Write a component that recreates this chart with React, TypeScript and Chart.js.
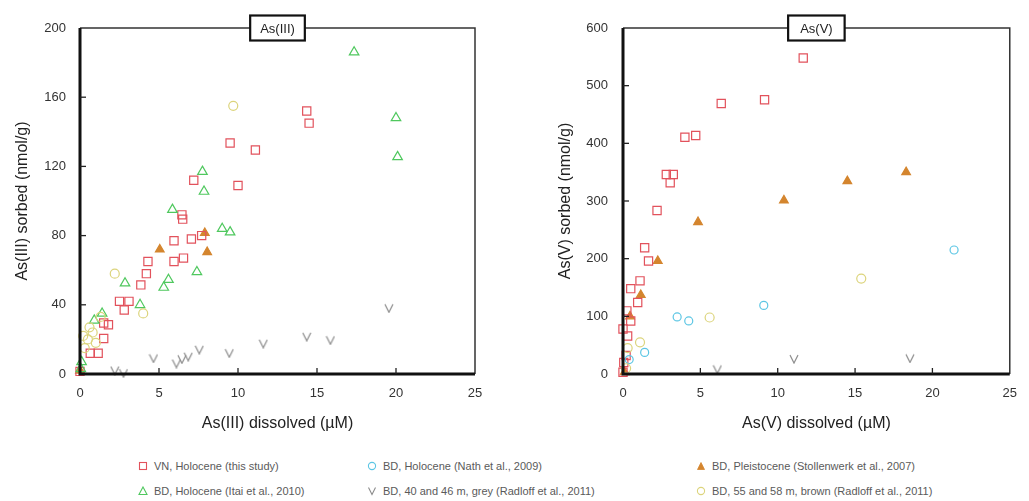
import React, { useEffect, useRef } from "react";
import { Chart, registerables } from "chart.js";
Chart.register(...registerables);

// ---------- tick labels ----------
const xTicks = [0, 5, 10, 15, 20, 25];
const yTicksIII = [0, 40, 80, 120, 160, 200];
const yTicksV = [0, 100, 200, 300, 400, 500, 600];

// ---------- series names ----------
const seriesNames = [
  "VN, Holocene (this study)",
  "BD, Holocene (Nath et al., 2009)",
  "BD, Pleistocene (Stollenwerk et al., 2007)",
  "BD, Holocene (Itai et al., 2010)",
  "BD, 40 and 46 m, grey (Radloff et al., 2011)",
  "BD, 55 and 58 m, brown (Radloff et al., 2011)",
];

// ---------- As(III) panel ----------
const vnIIIx = [14.35, 14.5, 9.5, 11.1, 10.0, 7.2, 6.45, 6.5, 5.95, 7.05, 7.7, 5.95, 6.55, 4.3, 4.2, 3.85, 2.5, 3.1, 2.8, 1.5, 1.8, 1.5, 0.65, 1.15, 0.0];
const vnIIIy = [152, 145, 133.5, 129.5, 109, 112, 92, 89.5, 77, 78, 80, 65, 67, 65, 58, 51.5, 42, 42, 37, 29.5, 28.5, 20.5, 12, 12, 1.5];
const nathIIIx: number[] = [];
const nathIIIy: number[] = [];
const pleiIIIx = [5.05, 7.9, 8.05, 0.0];
const pleiIIIy = [72, 81.5, 70.5, 2];
const itaiIIIx = [17.35, 20.0, 20.1, 7.75, 7.85, 5.85, 9.0, 9.5, 7.4, 5.3, 5.6, 2.85, 3.8, 1.4, 0.9, 0.1, 0.05];
const itaiIIIy = [186, 148, 125.5, 117, 105.5, 95, 84, 82, 59, 50, 54.5, 52.5, 40, 35, 31, 7, 3];
const greyIIIx = [2.2, 2.75, 4.65, 6.1, 6.45, 6.85, 7.55, 9.45, 11.6, 14.35, 15.85, 19.55];
const greyIIIy = [2, 0.5, 9, 6, 8.5, 10, 14, 12, 17.5, 21.5, 19.5, 38];
const brownIIIx = [9.7, 2.2, 4.0, 0.3, 0.5, 0.8, 0.2, 1.0, 0.6, 1.3];
const brownIIIy = [155, 58, 35, 15, 20, 24, 22, 18, 27, 33];

// ---------- As(V) panel ----------
const vnVx = [11.65, 9.15, 6.35, 4.0, 4.7, 2.8, 3.25, 3.05, 2.2, 1.4, 1.65, 1.1, 0.5, 0.95, 0.25, 0.5, 0.0, 0.3, 0.2, 0.05, 0.0];
const vnVy = [548, 475.5, 469, 410.5, 413.5, 346, 346, 331.5, 283.5, 219, 196, 161.5, 148, 124, 109.5, 92, 78, 66, 32, 20, 3];
const nathVx = [3.5, 4.25, 9.1, 1.4, 21.4, 0.4];
const nathVy = [99, 92, 119, 37.5, 215, 25];
const pleiVx = [4.85, 10.4, 14.5, 18.3, 2.25, 1.15, 0.45, 0.1];
const pleiVy = [263.5, 301, 334.5, 350, 196, 137, 100, 3];
const itaiVx: number[] = [];
const itaiVy: number[] = [];
const greyVx = [6.1, 11.05, 18.55];
const greyVy = [8, 26, 27];
const brownVx = [5.6, 15.4, 1.1, 0.3, 0.2];
const brownVy = [98, 165.5, 55, 45, 10];

const COLORS = {
  vn: "#e2525c",
  nath: "#5cc6e4",
  plei: "#d4852e",
  itai: "#4fc85e",
  grey: "#8c8c8c",
  brown: "#dcd47c",
};

const FONT = '"Liberation Sans", Arial, sans-serif';

function pts(xs: number[], ys: number[]) {
  return xs.map((x, i) => ({ x, y: ys[i] }));
}

function makeV(color: string, size: number) {
  const c = document.createElement("canvas");
  c.width = size;
  c.height = size;
  const g = c.getContext("2d")!;
  g.strokeStyle = color;
  g.lineWidth = 1.2;
  g.beginPath();
  g.moveTo(1, 1);
  g.lineTo(size / 2, size - 1);
  g.lineTo(size - 1, 1);
  g.stroke();
  return c;
}

const framePlugin = {
  id: "frame",
  afterDraw(chart: any, _args: any, opts: any) {
    const { ctx, chartArea } = chart;
    const { left, right, top, bottom } = chartArea;
    const xs = chart.scales.x;
    const ys = chart.scales.y;
    ctx.save();
    ctx.strokeStyle = "#333";
    ctx.lineWidth = 1.5;
    ctx.beginPath();
    ctx.moveTo(left, top);
    ctx.lineTo(right, top);
    ctx.lineTo(right, bottom);
    ctx.stroke();
    ctx.strokeStyle = "#111";
    ctx.lineWidth = 3;
    ctx.beginPath();
    ctx.moveTo(left, top);
    ctx.lineTo(left, bottom);
    ctx.lineTo(right, bottom);
    ctx.stroke();
    ctx.lineWidth = 1.3;
    ctx.strokeStyle = "#222";
    xs.ticks.forEach((t: any) => {
      if (t.value > xs.min && t.value < xs.max) {
        const px = xs.getPixelForValue(t.value);
        ctx.beginPath();
        ctx.moveTo(px, bottom);
        ctx.lineTo(px, bottom - 6);
        ctx.stroke();
      }
    });
    ys.ticks.forEach((t: any) => {
      if (t.value > ys.min && t.value < ys.max) {
        const py = ys.getPixelForValue(t.value);
        ctx.beginPath();
        ctx.moveTo(left, py);
        ctx.lineTo(left + 6, py);
        ctx.stroke();
      }
    });
    // title box
    ctx.font = `13px ${FONT}`;
    const tw = ctx.measureText(opts.text).width;
    const w = tw + opts.padX * 2;
    const h = 25;
    const cx = (left + right) / 2;
    ctx.fillStyle = "#fff";
    ctx.fillRect(cx - w / 2, top - h / 2, w, h);
    ctx.lineWidth = 2.2;
    ctx.strokeStyle = "#111";
    ctx.strokeRect(cx - w / 2, top - h / 2, w, h);
    ctx.fillStyle = "#222";
    ctx.textAlign = "center";
    ctx.textBaseline = "middle";
    ctx.fillText(opts.text, cx, top + 1);
    ctx.restore();
  },
};

function buildConfig(p: {
  series: { x: number[]; y: number[] }[];
  yTicks: number[];
  yMax: number;
  xTitle: string;
  yTitle: string;
  title: string;
  padX: number;
  yWidth: number;
  yTitlePad: number;
  yTickPad: number;
  padRight: number;
  vStyle: HTMLCanvasElement;
}) {
  const styles = [
    { pointStyle: "rect", radius: 5.8, color: COLORS.vn, fill: "rgba(0,0,0,0)" },
    { pointStyle: "circle", radius: 4, color: COLORS.nath, fill: "rgba(0,0,0,0)" },
    { pointStyle: "triangle", radius: 5, color: COLORS.plei, fill: COLORS.plei },
    { pointStyle: "triangle", radius: 5.5, color: COLORS.itai, fill: "rgba(0,0,0,0)" },
    { pointStyle: p.vStyle, radius: 5, color: COLORS.grey, fill: "rgba(0,0,0,0)" },
    { pointStyle: "circle", radius: 4.5, color: COLORS.brown, fill: "rgba(0,0,0,0)" },
  ];
  const order = [4, 5, 1, 3, 0, 2];
  const datasets = order.map((i) => ({
    label: seriesNames[i],
    data: pts(p.series[i].x, p.series[i].y),
    pointStyle: styles[i].pointStyle as any,
    pointRadius: styles[i].radius,
    pointBorderColor: styles[i].color,
    pointBackgroundColor: styles[i].fill,
    pointBorderWidth: 1.2,
    showLine: false,
    clip: false as any,
  }));
  return {
    type: "scatter" as const,
    data: { datasets },
    options: {
      animation: false as const,
      responsive: false,
      devicePixelRatio: 1,
      layout: { padding: { left: 0, top: 28, right: p.padRight, bottom: 0 } },
      plugins: {
        legend: { display: false },
        tooltip: { enabled: false },
        title: { display: false },
        frame: { text: p.title, padX: p.padX },
      },
      scales: {
        x: {
          type: "linear" as const,
          min: 0,
          max: 25,
          border: { display: false },
          grid: { display: false, drawTicks: false },
          afterBuildTicks: (s: any) => {
            s.ticks = xTicks.map((v) => ({ value: v }));
          },
          afterFit: (s: any) => {
            s.height = 66;
          },
          ticks: { color: "#333", font: { family: FONT, size: 13 }, padding: 12, maxRotation: 0 },
          title: {
            display: true,
            text: p.xTitle,
            color: "#222",
            font: { family: FONT, size: 16 },
            padding: { top: 0, bottom: 7 },
          },
        },
        y: {
          type: "linear" as const,
          min: 0,
          max: p.yMax,
          border: { display: false },
          grid: { display: false, drawTicks: false },
          afterBuildTicks: (s: any) => {
            s.ticks = p.yTicks.map((v) => ({ value: v }));
          },
          afterFit: (s: any) => {
            s.width = p.yWidth;
          },
          ticks: { color: "#333", font: { family: FONT, size: 13 }, padding: p.yTickPad },
          title: {
            display: true,
            text: p.yTitle,
            color: "#222",
            font: { family: FONT, size: 16 },
            padding: { top: p.yTitlePad, bottom: 0 },
          },
        },
      },
    },
    plugins: [framePlugin],
  };
}

function LegendMarker({ kind, color }: { kind: string; color: string }) {
  const s = 10;
  let shape: any = null;
  if (kind === "rect") shape = <rect x={1.5} y={1.5} width={7} height={7} fill="none" stroke={color} strokeWidth={1.1} />;
  if (kind === "circle") shape = <circle cx={5} cy={5} r={3.6} fill="none" stroke={color} strokeWidth={1.1} />;
  if (kind === "tri") shape = <polygon points="5,1 9,8.5 1,8.5" fill="none" stroke={color} strokeWidth={1.1} />;
  if (kind === "trif") shape = <polygon points="5,1.5 8.5,8.5 1.5,8.5" fill={color} stroke={color} strokeWidth={0.8} />;
  if (kind === "v") shape = <polyline points="1.5,1.5 5,8.5 8.5,1.5" fill="none" stroke={color} strokeWidth={1.1} />;
  return (
    <svg width={s} height={s} style={{ position: "absolute", left: -16, top: 2 }}>
      {shape}
    </svg>
  );
}

const legendItems = [
  { name: seriesNames[0], kind: "rect", color: COLORS.vn, x: 154, y: 466 },
  { name: seriesNames[3], kind: "tri", color: COLORS.itai, x: 154, y: 491 },
  { name: seriesNames[1], kind: "circle", color: COLORS.nath, x: 383, y: 466 },
  { name: seriesNames[4], kind: "v", color: COLORS.grey, x: 383, y: 491 },
  { name: seriesNames[2], kind: "trif", color: COLORS.plei, x: 712, y: 466 },
  { name: seriesNames[5], kind: "circle", color: COLORS.brown, x: 712, y: 491 },
];

export default function App() {
  const leftRef = useRef<HTMLCanvasElement>(null);
  const rightRef = useRef<HTMLCanvasElement>(null);

  useEffect(() => {
    const vStyle = makeV(COLORS.grey, 10);
    const left = new Chart(
      leftRef.current!,
      buildConfig({
        series: [
          { x: vnIIIx, y: vnIIIy },
          { x: nathIIIx, y: nathIIIy },
          { x: pleiIIIx, y: pleiIIIy },
          { x: itaiIIIx, y: itaiIIIy },
          { x: greyIIIx, y: greyIIIy },
          { x: brownIIIx, y: brownIIIy },
        ],
        yTicks: yTicksIII,
        yMax: 200,
        xTitle: "As(III) dissolved (µM)",
        yTitle: "As(III) sorbed (nmol/g)",
        title: "As(III)",
        padX: 10,
        yWidth: 80,
        yTitlePad: 13,
        yTickPad: 14,
        padRight: 25,
        vStyle,
      }) as any
    );
    const right = new Chart(
      rightRef.current!,
      buildConfig({
        series: [
          { x: vnVx, y: vnVy },
          { x: nathVx, y: nathVy },
          { x: pleiVx, y: pleiVy },
          { x: itaiVx, y: itaiVy },
          { x: greyVx, y: greyVy },
          { x: brownVx, y: brownVy },
        ],
        yTicks: yTicksV,
        yMax: 600,
        xTitle: "As(V) dissolved (µM)",
        yTitle: "As(V) sorbed (nmol/g)",
        title: "As(V)",
        padX: 12,
        yWidth: 103,
        yTitlePad: 36,
        yTickPad: 15,
        padRight: 13,
        vStyle,
      }) as any
    );
    return () => {
      left.destroy();
      right.destroy();
    };
  }, []);

  return (
    <div style={{ position: "absolute", left: 0, top: 0, width: 1029, height: 501, background: "#fff", overflow: "hidden" }}>
      <canvas ref={leftRef} width={500} height={440} style={{ position: "absolute", left: 0, top: 0, display: "block" }} />
      <canvas ref={rightRef} width={509} height={440} style={{ position: "absolute", left: 520, top: 0, display: "block" }} />
      {legendItems.map((it, i) => (
        <div
          key={i}
          style={{
            position: "absolute",
            left: it.x,
            top: it.y - 7,
            fontFamily: FONT,
            fontSize: 11,
            lineHeight: "14px",
            color: "#5a5a5a",
            whiteSpace: "nowrap",
          }}
        >
          <LegendMarker kind={it.kind} color={it.color} />
          {it.name}
        </div>
      ))}
    </div>
  );
}
